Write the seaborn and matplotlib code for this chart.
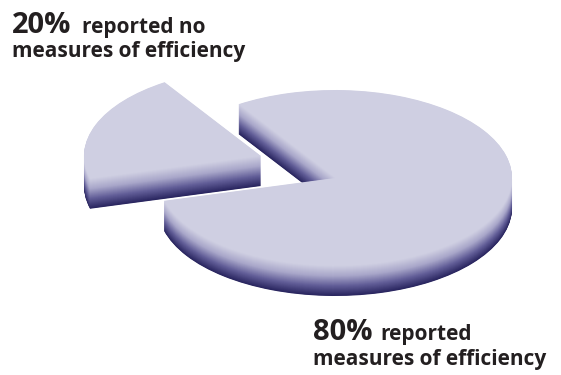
import matplotlib
matplotlib.use("Agg")
import matplotlib.pyplot as plt
import seaborn as sns
import numpy as np

# ---- data ----
labels = ["reported measures of efficiency", "reported no measures of efficiency"]
shares = [80, 20]
pct_labels = ["80%", "20%"]

sns.set_style("white")
plt.rcParams["font.family"] = ["Open Sans", "DejaVu Sans"]

W, H = 561, 375
fig = plt.figure(figsize=(W / 100, H / 100), dpi=100)
ax = fig.add_axes([0, 0, 1, 1])

# geometry (pixels)
cx, cy = 335, 178      # main pie top-face centre
rx, ry = 177, 88       # ellipse radii
thick = 30             # side wall height
exp_dx, exp_dy = -74, -22  # displacement of the separated slice

face = "#CFCFE2"
dark = "#29255F"
nlay = 60
wall = sns.blend_palette([face, "#A9A7CA", "#625E98", dark], nlay + 1)

def to_data(px, py):
    return ((px - cx) / rx, (cy - py) / ry)

main_c = np.array(to_data(cx, cy))
slice_c = np.array(to_data(cx + exp_dx, cy + exp_dy))

def layer(center, color, which):
    cols = [color if i == which else "none" for i in range(len(shares))]
    ax.pie(shares, startangle=195, counterclock=True, radius=1.0,
           center=tuple(center), colors=cols,
           wedgeprops=dict(linewidth=0, antialiased=True))

# separated 20% slice (behind), then the 80% body
for which, c in [(1, slice_c), (0, main_c)]:
    for k in range(nlay, -1, -1):
        off = (k / nlay) * thick / ry
        col = face if k == 0 else wall[k]
        layer((c[0], c[1] - off), col, which)

ax.set_aspect("auto")
ax.set_xlim(-cx / rx, (W - cx) / rx)
ax.set_ylim(-(H - cy) / ry, cy / ry)
ax.axis("off")

tc = "#231F20"
def px(x, y):
    return (x / W, 1 - y / H)

fig.text(*px(12, 33), pct_labels[1], fontsize=21, fontweight="bold", color=tc, va="baseline")
fig.text(*px(82, 33), "reported no", fontsize=15, fontweight="bold", color=tc, va="baseline")
fig.text(*px(12, 57), "measures of efficiency", fontsize=15, fontweight="bold", color=tc, va="baseline")

fig.text(*px(313, 340), pct_labels[0], fontsize=21, fontweight="bold", color=tc, va="baseline")
fig.text(*px(380, 340), "reported", fontsize=15, fontweight="bold", color=tc, va="baseline")
fig.text(*px(313, 365), "measures of efficiency", fontsize=15, fontweight="bold", color=tc, va="baseline")

fig.savefig("out.png", dpi=100)
